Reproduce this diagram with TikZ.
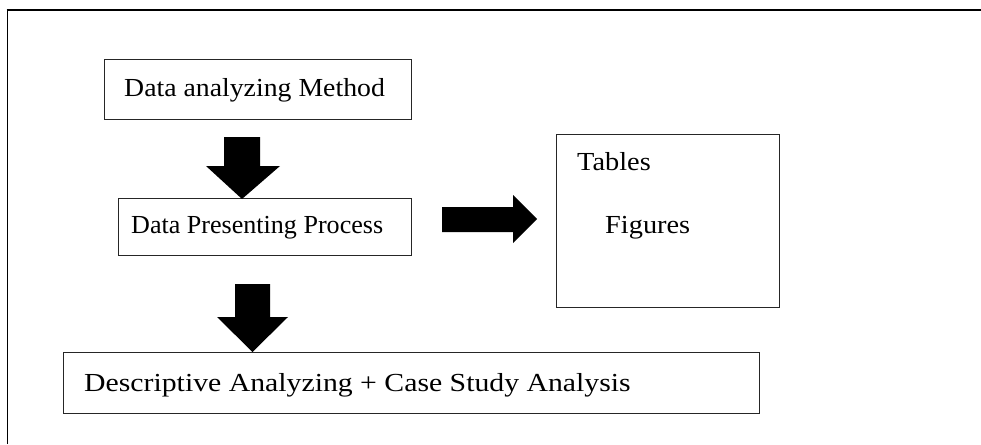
\documentclass[tikz,border=0pt]{standalone}
\usepackage{fontspec}
\setmainfont{Liberation Serif}[FakeStretch=1.09]
\begin{document}
\begin{tikzpicture}[x=1pt,y=-1pt,
  box/.style={draw=black!85,line width=1pt,anchor=north west,inner sep=0pt},
  label/.style={anchor=base west,inner sep=0pt,font=\fontsize{26}{30}\selectfont},
  blockarrow/.style={fill=black,draw=none}]
\useasboundingbox (0,0) rectangle (981,444);
% outer frame: left side and heavier top rule
\draw[line width=1pt] (7,444) -- (7,10.5);
\draw[line width=2pt] (6.5,10.5) -- (981,10.5);

% boxes
\node[box,minimum width=307pt,minimum height=60pt] (method) at (104,59) {};
\node[box,minimum width=293pt,minimum height=57pt] (present) at (118,198) {};
\node[box,minimum width=223pt,minimum height=173pt] (output) at (556,134) {};
\node[box,minimum width=696pt,minimum height=61pt] (analysis) at (63,352) {};

% texts
\node[label] (tmethod) at (124,96) {\scalebox{0.98}[1]{Data analyzing Method}};
\node[label] (tpresent) at (131,233) {\scalebox{0.92}[1]{Data Presenting Process}};
\node[label] (ttables) at (577,170) {Tables};
\node[label] (tfigures) at (605,233) {Figures};
\node[label] (tanalysis) at (84,391) {\scalebox{1.05}[1]{Descriptive Analyzing + Case Study Analysis}};

% block arrows
\fill[blockarrow] (224,137) -- (260,137) -- (260,166) -- (280,166) -- (242,199)
  -- (206,166) -- (224,166) -- cycle;
\fill[blockarrow] (442,207) -- (513,207) -- (513,195) -- (537,219) -- (513,243)
  -- (513,232) -- (442,232) -- cycle;
\fill[blockarrow] (235,284) -- (270,284) -- (270,317) -- (288,317) -- (252.5,352)
  -- (217,317) -- (235,317) -- cycle;
\end{tikzpicture}
\end{document}
